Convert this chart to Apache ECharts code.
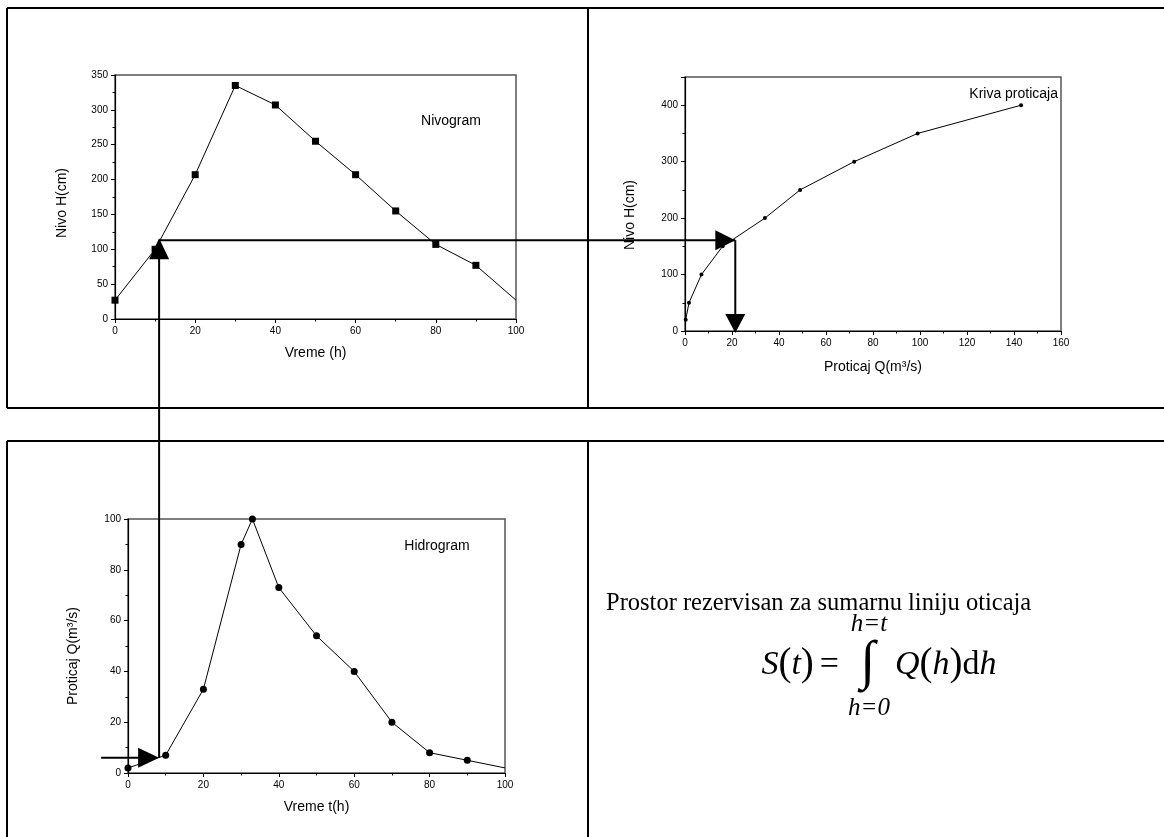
<!DOCTYPE html>
<html>
<head>
<meta charset="utf-8">
<script src="https://cdn.jsdelivr.net/npm/echarts@6/dist/echarts.min.js"></script>
<style>
  html, body { margin: 0; padding: 0; background: #fff; }
  #c { width: 1164px; height: 837px; }
</style>
</head>
<body>
<div id="c"></div>
<script>
// Nivogram: water level H (cm) over time (h)
const nivoTime  = [0, 10, 20, 30, 40, 50, 60, 70, 80, 90, 100];
const nivoLevel = [27, 100, 207, 335, 307, 255, 207, 155, 107, 77, 27];

// Rating curve (kriva proticaja): level H (cm) against discharge Q (m3/s)
const ratingQ = [0.3, 1.7, 7, 16, 34, 49, 72, 99, 143];
const ratingH = [20, 50, 100, 150, 200, 250, 300, 350, 400];

// Hidrogram: discharge Q (m3/s) over time t (h)
const hydroTime = [0, 10, 20, 30, 33, 40, 50, 60, 70, 80, 90, 100];
const hydroQ    = [2, 7, 33, 90, 100, 73, 54, 40, 20, 8, 5, 2];

// Reading path drawn with arrows between the three panels
const pickTime = 11;      // time read on the nivogram
const pickLevel = 113;    // level at that time
const pickQ = 21.4;       // discharge found on the rating curve
const pickHydroQ = 6;     // where the path lands on the hidrogram

const SANS = '"Liberation Sans", Arial, sans-serif';
const SERIF = '"Liberation Serif", "Times New Roman", serif';

function zip(xs, ys) { return xs.map((x, i) => [x, ys[i]]); }

function valueAxis(gridIndex, min, max, interval, extra) {
  return Object.assign({
    type: 'value', gridIndex, min, max, interval,
    nameLocation: 'middle',
    nameTextStyle: { fontFamily: SANS, fontSize: 14, color: '#000' },
    axisLine: { show: true, onZero: false, lineStyle: { color: '#000', width: 1.2 } },
    axisTick: { show: true, inside: false, length: 4, lineStyle: { color: '#000', width: 1 } },
    minorTick: { show: true, splitNumber: 2, length: 2.5, lineStyle: { color: '#000', width: 1 } },
    axisLabel: { fontFamily: SANS, fontSize: 10, color: '#000', margin: 7 },
    splitLine: { show: false },
    minorSplitLine: { show: false }
  }, extra || {});
}

function lastNoSymbol(shape, n) {
  return (val, params) => (params.dataIndex === n - 1 ? 'none' : shape);
}

const chart = echarts.init(document.getElementById('c'), null, { renderer: 'canvas' });

const gridStyle = { show: true, borderColor: '#555', borderWidth: 1.5, backgroundColor: 'transparent' };

chart.setOption({
  animation: false,
  backgroundColor: '#fff',
  grid: [
    Object.assign({ left: 115, top: 75, width: 401, height: 244 }, gridStyle),
    Object.assign({ left: 685, top: 77, width: 376, height: 254 }, gridStyle),
    Object.assign({ left: 128, top: 519, width: 377, height: 254 }, gridStyle)
  ],
  xAxis: [
    valueAxis(0, 0, 100, 20, { name: 'Vreme (h)', nameGap: 27 }),
    valueAxis(1, 0, 160, 20, { name: 'Proticaj Q(m³/s)', nameGap: 29 }),
    valueAxis(2, 0, 100, 20, { name: 'Vreme t(h)', nameGap: 27 })
  ],
  yAxis: [
    valueAxis(0, 0, 350, 50, { name: 'Nivo H(cm)', nameGap: 46, nameRotate: 90,
      nameTextStyle: { fontFamily: SANS, fontSize: 14, color: '#000', padding: [0, 12, 0, 0] } }),
    valueAxis(1, 0, 450, 100, { name: 'Nivo H(cm)', nameGap: 48, nameRotate: 90,
      nameTextStyle: { fontFamily: SANS, fontSize: 14, color: '#000', padding: [0, 22, 0, 0] },
      axisLabel: { fontFamily: SANS, fontSize: 10, color: '#000', margin: 7, showMaxLabel: false } }),
    valueAxis(2, 0, 100, 20, { name: 'Proticaj Q(m³/s)', nameGap: 48, nameRotate: 90,
      nameTextStyle: { fontFamily: SANS, fontSize: 14, color: '#000', padding: [0, 20, 0, 0] } })
  ],
  series: [
    {
      type: 'line', xAxisIndex: 0, yAxisIndex: 0,
      data: zip(nivoTime, nivoLevel),
      symbol: lastNoSymbol('rect', nivoTime.length), symbolSize: 7, showAllSymbol: true,
      lineStyle: { color: '#000', width: 1 }, itemStyle: { color: '#000' }, z: 3
    },
    {
      type: 'line', xAxisIndex: 1, yAxisIndex: 1,
      data: zip(ratingQ, ratingH),
      symbol: 'circle', symbolSize: 4, showAllSymbol: true,
      lineStyle: { color: '#000', width: 1 }, itemStyle: { color: '#000' }, z: 3
    },
    {
      type: 'line', xAxisIndex: 2, yAxisIndex: 2,
      data: zip(hydroTime, hydroQ),
      symbol: lastNoSymbol('circle', hydroTime.length), symbolSize: 7, showAllSymbol: true,
      lineStyle: { color: '#000', width: 1 }, itemStyle: { color: '#000' }, z: 3
    }
  ]
});

// Panel frames, labels, formula and the reading-path arrows
const p = chart.convertToPixel({ gridIndex: 0 }, [pickTime, pickLevel]);
const k = chart.convertToPixel({ gridIndex: 1 }, [pickQ, 0]);
const hq = chart.convertToPixel({ gridIndex: 2 }, [0, pickHydroQ]);
const px = p[0], py = p[1];

const stroke = { stroke: '#000', lineWidth: 2 };
function seg(x1, y1, x2, y2) {
  return { type: 'line', shape: { x1, y1, x2, y2 }, style: stroke, z: 20, silent: true };
}
function tri(points) {
  return { type: 'polygon', shape: { points }, style: { fill: '#000' }, z: 21, silent: true };
}
function label(text, x, y, size, align) {
  return { type: 'text', x, y, z: 10, silent: true,
    style: { text, fontFamily: SANS, fontSize: size, fill: '#000', align: align || 'center', verticalAlign: 'middle' } };
}
function serif(text, x, y, size, italic, align) {
  return { type: 'text', x, y, z: 10, silent: true,
    style: { text, fontFamily: SERIF, fontSize: size, fontStyle: italic ? 'italic' : 'normal',
      fill: '#000', align: align || 'left', verticalAlign: 'middle' } };
}

const mathRich = {
  i: { fontFamily: SERIF, fontSize: 34, fontStyle: 'italic', fill: '#000' },
  p: { fontFamily: SERIF, fontSize: 39, fill: '#000' },
  n: { fontFamily: SERIF, fontSize: 34, fill: '#000' },
  s: { fontFamily: SERIF, fontSize: 34, fill: '#000', width: 6 }
};

const graphic = [
  // frames
  seg(7, 8, 1164, 8), seg(7, 408, 1164, 408), seg(7, 8, 7, 408), seg(588, 8, 588, 408),
  seg(7, 441, 1164, 441), seg(7, 441, 7, 837), seg(588, 441, 588, 837),

  // panel titles
  label('Nivogram', 451, 121, 14),
  label('Kriva proticaja', 1058, 94, 14, 'right'),
  label('Hidrogram', 437, 546, 14),

  // reserved-space note and the cumulative-runoff formula
  serif('Prostor rezervisan za sumarnu liniju oticaja', 606, 604, 24.5, false),
  {
    type: 'text', x: 839, y: 665, z: 10, silent: true,
    style: {
      text: '{i|S}{p|(}{i|t}{p|)}{s|}{n|=}',
      align: 'right', verticalAlign: 'middle', rich: mathRich
    }
  },
  serif('∫', 868, 664, 54, false, 'center'),
  serif('h=t', 869, 624, 25, true, 'center'),
  serif('h=0', 869, 708, 25, true, 'center'),
  {
    type: 'text', x: 895, y: 665, z: 10, silent: true,
    style: {
      text: '{i|Q}{p|(}{i|h}{p|)}{n|d}{i|h}',
      align: 'left', verticalAlign: 'middle', rich: mathRich
    }
  },

  // reading path: nivogram -> rating curve -> discharge axis, and down to the hidrogram
  seg(px, py, px, hq[1]),
  tri([[px, py - 2], [px - 10, py + 19], [px + 10, py + 19]]),
  seg(px, py, k[0], py),
  tri([[k[0], py], [k[0] - 20, py - 10], [k[0] - 20, py + 10]]),
  seg(k[0], py, k[0], k[1] - 10),
  tri([[k[0], k[1] + 2], [k[0] - 10, k[1] - 17], [k[0] + 10, k[1] - 17]]),
  seg(px - 58, hq[1], px - 18, hq[1]),
  tri([[px, hq[1]], [px - 21, hq[1] - 10], [px - 21, hq[1] + 10]])
];

chart.setOption({ graphic });
</script>
</body>
</html>
